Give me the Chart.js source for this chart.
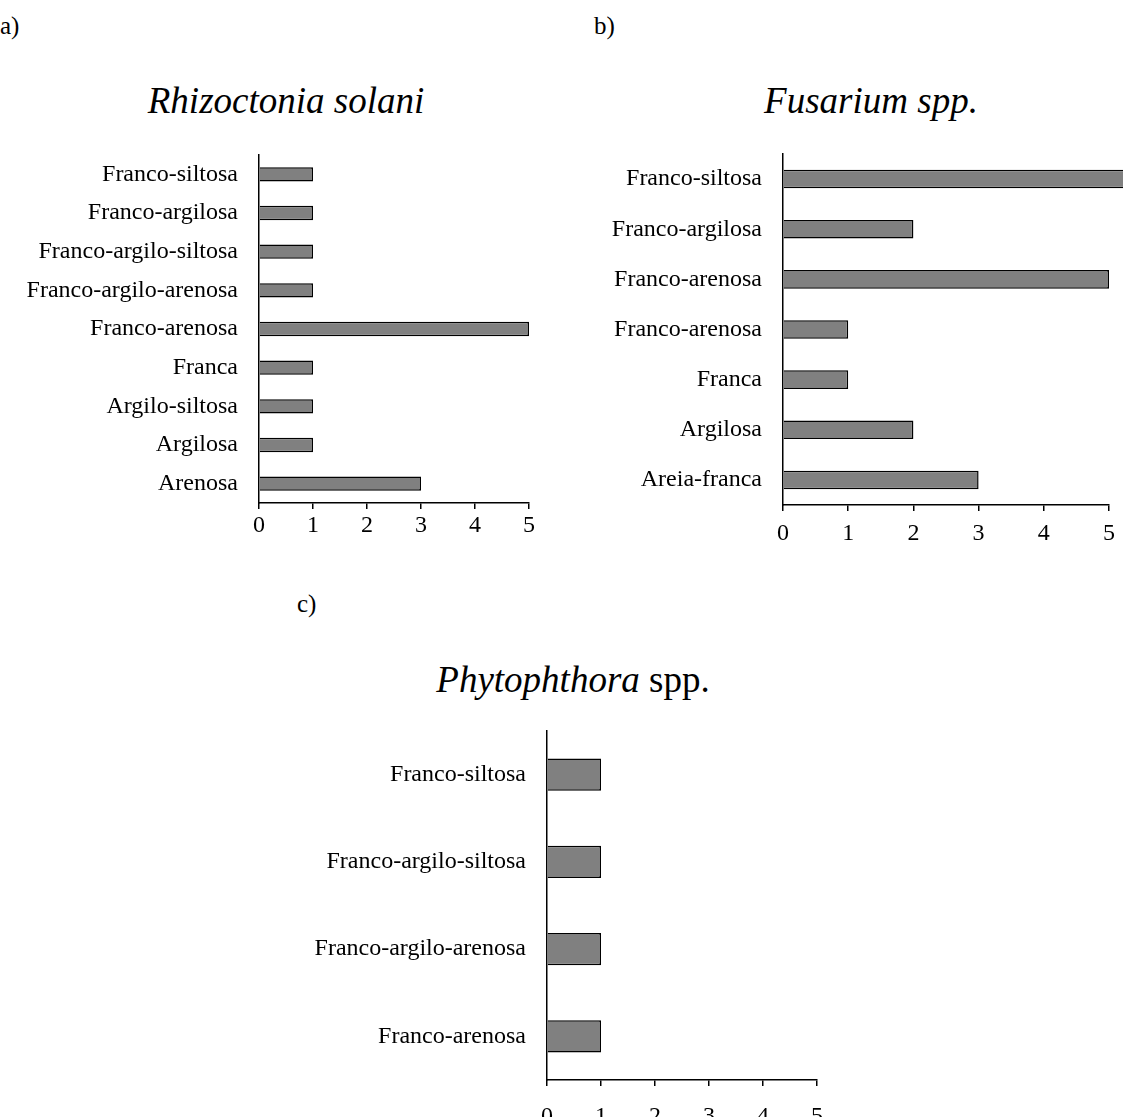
<!DOCTYPE html>
<html>
<head>
<meta charset="utf-8">
<script src="https://cdn.jsdelivr.net/npm/chart.js@4"></script>
<style>
  body { margin: 0; background: #fff; width: 1123px; height: 1117px; position: relative; overflow: hidden; font-family: 'Liberation Serif', serif; }
  .lbl { position: absolute; font-size: 25px; color: #000; }
  .ttl { position: absolute; font-size: 37px; line-height: 1; color: #000; text-align: center; white-space: nowrap; }
  canvas { position: absolute; }
</style>
</head>
<body>
<div class="lbl" style="left:0px; top:12px;">a)</div>
<div class="lbl" style="left:594px; top:12px;">b)</div>
<div class="lbl" style="left:297px; top:590px;">c)</div>

<div class="ttl" style="left:86px; width:400px; top:82px;"><i>Rhizoctonia solani</i></div>
<div class="ttl" style="left:671px; width:400px; top:82px;"><i>Fusarium spp.</i></div>
<div class="ttl" style="left:373px; width:400px; top:661px;"><i>Phytophthora</i> spp.</div>

<canvas id="chart-a" width="560" height="400" style="left:0px; top:140px;"></canvas>
<canvas id="chart-b" width="563" height="420" style="left:560px; top:140px;"></canvas>
<canvas id="chart-c" width="560" height="397" style="left:280px; top:720px;"></canvas>

<script>
// Soil texture classes and counts, listed top to bottom as drawn
const rhizoctoniaLabels = ['Franco-siltosa', 'Franco-argilosa', 'Franco-argilo-siltosa', 'Franco-argilo-arenosa',
    'Franco-arenosa', 'Franca', 'Argilo-siltosa', 'Argilosa', 'Arenosa'];
const rhizoctoniaValues = [1, 1, 1, 1, 5, 1, 1, 1, 3];

const fusariumLabels = ['Franco-siltosa', 'Franco-argilosa', 'Franco-arenosa', 'Franco-arenosa',
    'Franca', 'Argilosa', 'Areia-franca'];
const fusariumValues = [6, 2, 5, 1, 1, 2, 3];

const phytophthoraLabels = ['Franco-siltosa', 'Franco-argilo-siltosa', 'Franco-argilo-arenosa', 'Franco-arenosa'];
const phytophthoraValues = [1, 1, 1, 1];

const xTicks = [0, 1, 2, 3, 4, 5];

const FONT = { family: "'Liberation Serif', 'Times New Roman', serif", size: 24 };

// Build one horizontal bar chart
function createBarChart(canvasId, labels, values, cfg) {
    const ctx = document.getElementById(canvasId).getContext('2d');
    return new Chart(ctx, {
        type: 'bar',
        data: {
            labels: labels,
            datasets: [{
                data: values,
                backgroundColor: '#808080',
                borderColor: '#000',
                borderWidth: 1.5,
                borderSkipped: 'start',
                categoryPercentage: 1,
                barPercentage: 0.37,
                clip: false
            }]
        },
        options: {
            indexAxis: 'y',
            responsive: false,
            animation: false,
            layout: { padding: { left: 0, right: cfg.padRight, top: cfg.padTop, bottom: 0 } },
            plugins: { legend: { display: false }, tooltip: { enabled: false } },
            scales: {
                x: {
                    min: 0,
                    max: 5,
                    afterBuildTicks: scale => { scale.ticks = xTicks.map(v => ({ value: v })); },
                    afterFit: scale => { scale.height = cfg.xHeight; },
                    grid: { display: true, drawOnChartArea: false, drawTicks: true, tickLength: 6, color: '#000', lineWidth: 1.5 },
                    border: { display: true, color: '#000', width: 1.5 },
                    ticks: { color: '#000', font: FONT, padding: cfg.xPad, maxRotation: 0 }
                },
                y: {
                    afterFit: scale => {
                        scale.width = cfg.yWidth;
                        scale.paddingTop = 0;
                        scale.paddingBottom = 0;
                    },
                    grid: { display: false, drawTicks: false },
                    border: { display: true, color: '#000', width: 1.5 },
                    ticks: { color: '#000', font: FONT, padding: 21, autoSkip: false }
                }
            }
        }
    });
}

window.onload = function() {
    createBarChart('chart-a', rhizoctoniaLabels, rhizoctoniaValues,
        { yWidth: 259, padRight: 31, padTop: 15, xHeight: 37, xPad: 2 });
    createBarChart('chart-b', fusariumLabels, fusariumValues,
        { yWidth: 223, padRight: 10, padTop: 14, xHeight: 55, xPad: 8 });
    createBarChart('chart-c', phytophthoraLabels, phytophthoraValues,
        { yWidth: 267, padRight: 23, padTop: 11, xHeight: 37, xPad: 16 });
};
</script>
</body>
</html>
